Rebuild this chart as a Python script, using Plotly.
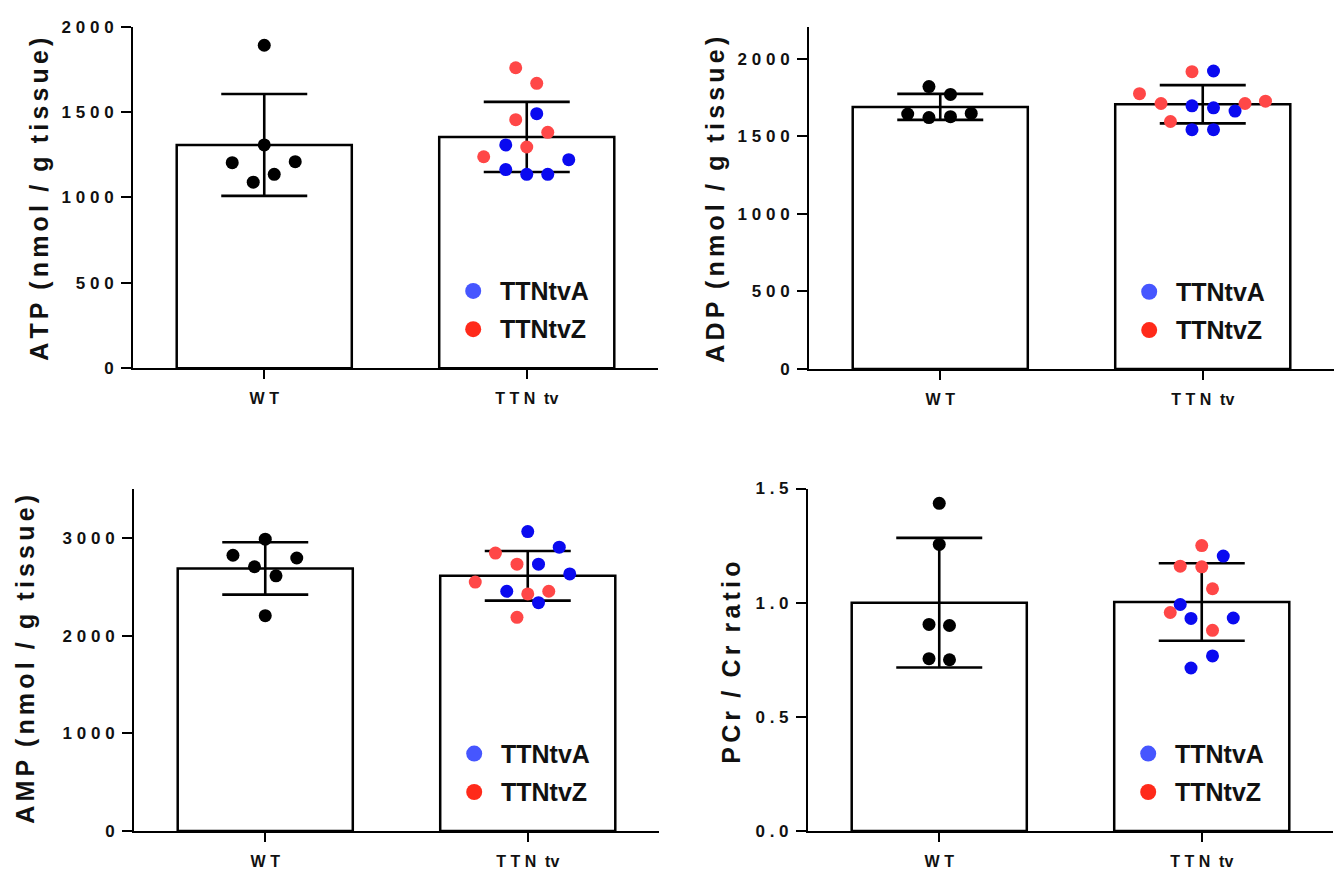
import plotly.graph_objects as go

# ---------------- data ----------------
categories = ["WT", "TTNtv"]
category_labels = ["W T", "T T N\u00a0 tv"]
legend_labels = ["TTNtvA", "TTNtvZ"]

# ATP (nmol / g tissue)
atp_wt = [1891, 1307, 1203, 1209, 1135, 1089]
atp_wt_jit = [0.0, 0.0, -0.122, 0.118, 0.038, -0.042]
atp_a = [1490, 1307, 1221, 1163, 1135, 1135]
atp_a_jit = [0.038, -0.08, 0.16, -0.08, 0.0, 0.08]
atp_z = [1759, 1668, 1455, 1381, 1295, 1238]
atp_z_jit = [-0.042, 0.038, -0.042, 0.08, 0.0, -0.164]
atp_mean = [1307, 1354]
atp_sd = [298, 205]

# ADP (nmol / g tissue)
adp_wt = [1820, 1769, 1643, 1620, 1626, 1647]
adp_wt_jit = [-0.043, 0.039, -0.124, -0.043, 0.039, 0.118]
adp_a = [1920, 1696, 1683, 1662, 1542, 1542]
adp_a_jit = [0.041, -0.041, 0.041, 0.123, -0.041, 0.041]
adp_z = [1916, 1774, 1711, 1711, 1726, 1595]
adp_z_jit = [-0.041, -0.241, -0.159, 0.161, 0.239, -0.123]
adp_mean = [1689, 1706]
adp_sd = [84, 123]

# AMP (nmol / g tissue)
amp_wt = [2991, 2826, 2798, 2708, 2615, 2207]
amp_wt_jit = [0.0, -0.123, 0.12, -0.041, 0.041, 0.0]
amp_a = [3069, 2909, 2735, 2635, 2457, 2340]
amp_a_jit = [0.0, 0.12, 0.041, 0.16, -0.08, 0.041]
amp_z = [2848, 2735, 2551, 2430, 2457, 2190]
amp_z_jit = [-0.123, -0.041, -0.2, 0.0, 0.08, -0.041]
amp_mean = [2691, 2615]
amp_sd = [268, 254]

# PCr / Cr ratio
pcr_wt = [1.435, 1.255, 0.905, 0.90, 0.755, 0.75]
pcr_wt_jit = [0.0, 0.0, -0.039, 0.039, -0.039, 0.039]
pcr_a = [1.204, 0.992, 0.931, 0.933, 0.767, 0.714]
pcr_a_jit = [0.082, -0.082, -0.041, 0.12, 0.041, -0.041]
pcr_z = [1.25, 1.16, 1.157, 1.061, 0.957, 0.879]
pcr_z_jit = [0.0, -0.082, 0.0, 0.041, -0.12, 0.041]
pcr_mean = [1.0, 1.003]
pcr_sd = [0.284, 0.17]

atp_ticks = [0, 500, 1000, 1500, 2000]
adp_ticks = [0, 500, 1000, 1500, 2000]
amp_ticks = [0, 1000, 2000, 3000]
pcr_ticks = ["0.0", "0.5", "1.0", "1.5"]

# ---------------- styling ----------------
FONT = "Liberation Sans, Arial, Helvetica, sans-serif"
C_WT = "#000000"
C_A = "#0a0af0"
C_Z = "#ff4747"
C_LEG_A = "#4656ff"
C_LEG_Z = "#ff2a1a"
W, H = 1340, 888


def spaced(s, sep="\u200a\u200a", word=" \u2005"):
    out = []
    for i, ch in enumerate(s):
        if ch == " ":
            out.append(word)
            continue
        out.append(ch)
        if i < len(s) - 1 and s[i + 1] != " ":
            out.append(sep)
    return "".join(out)


def tick_text(v):
    return " ".join(str(v))


panels = [
    dict(title="ATP (nmol / g tissue)", wt=atp_wt, wtj=atp_wt_jit, a=atp_a, aj=atp_a_jit,
         z=atp_z, zj=atp_z_jit, mean=atp_mean, sd=atp_sd,
         tickvals=atp_ticks, ticktext=[tick_text(t) for t in atp_ticks], yrange=[0, 2000],
         xdom=[133, 658], ydom=[18, 367], tx=39, ty=195),
    dict(title="ADP (nmol / g tissue)", wt=adp_wt, wtj=adp_wt_jit, a=adp_a, aj=adp_a_jit,
         z=adp_z, zj=adp_z_jit, mean=adp_mean, sd=adp_sd,
         tickvals=adp_ticks, ticktext=[tick_text(t) for t in adp_ticks], yrange=[0, 2206],
         xdom=[809, 1334], ydom=[18, 368], tx=715, ty=195),
    dict(title="AMP (nmol / g tissue)", wt=amp_wt, wtj=amp_wt_jit, a=amp_a, aj=amp_a_jit,
         z=amp_z, zj=amp_z_jit, mean=amp_mean, sd=amp_sd,
         tickvals=amp_ticks, ticktext=[tick_text(t) for t in amp_ticks], yrange=[0, 3510],
         xdom=[134, 659], ydom=[490, 840], tx=25, ty=665),
    dict(title="PCr / Cr ratio", wt=pcr_wt, wtj=pcr_wt_jit, a=pcr_a, aj=pcr_a_jit,
         z=pcr_z, zj=pcr_z_jit, mean=pcr_mean, sd=pcr_sd,
         tickvals=[float(t) for t in pcr_ticks], ticktext=[tick_text(t) for t in pcr_ticks],
         yrange=[0, 1.5], xdom=[808, 1333], ydom=[490, 840], tx=731, ty=668),
]

fig = go.Figure()
layout = dict(width=W, height=H, margin=dict(l=0, r=0, t=0, b=0),
              paper_bgcolor="white", plot_bgcolor="white", showlegend=False,
              font=dict(family=FONT, color="#111111"))
annotations = []
shapes = []

for i, p in enumerate(panels):
    n = "" if i == 0 else str(i + 1)
    xa, ya = "x" + n, "y" + n
    xdom = [p["xdom"][0] / W, p["xdom"][1] / W]
    ydom = [1 - p["ydom"][1] / H, 1 - p["ydom"][0] / H]

    fig.add_trace(go.Bar(
        x=[0, 1], y=p["mean"], width=0.667, xaxis=xa, yaxis=ya,
        marker=dict(color="white", line=dict(color="black", width=2.5)),
        error_y=dict(type="data", array=p["sd"], visible=True, color="black",
                     thickness=2.6, width=43),
        hoverinfo="skip"))
    fig.add_trace(go.Scatter(
        x=[0 + j for j in p["wtj"]], y=p["wt"], mode="markers", xaxis=xa, yaxis=ya,
        marker=dict(color=C_WT, size=13, line=dict(width=0))))
    fig.add_trace(go.Scatter(
        x=[1 + j for j in p["zj"]], y=p["z"], mode="markers", xaxis=xa, yaxis=ya,
        marker=dict(color=C_Z, size=13, line=dict(width=0))))
    fig.add_trace(go.Scatter(
        x=[1 + j for j in p["aj"]], y=p["a"], mode="markers", xaxis=xa, yaxis=ya,
        marker=dict(color=C_A, size=13, line=dict(width=0))))

    layout["xaxis" + n] = dict(
        domain=xdom, anchor=ya, range=[-0.5, 1.5], tickvals=[0, 1], ticktext=category_labels,
        ticks="outside", ticklen=9, tickwidth=2, tickcolor="black",
        showline=True, linewidth=2, linecolor="black", showgrid=False, zeroline=False,
        tickfont=dict(family=FONT, size=16, weight="bold", color="#111111"),
        ticklabelstandoff=6, fixedrange=True)
    layout["yaxis" + n] = dict(
        domain=ydom, anchor=xa, range=p["yrange"], tickvals=p["tickvals"], ticktext=p["ticktext"],
        ticks="outside", ticklen=10, tickwidth=2, tickcolor="black",
        showline=True, linewidth=2, linecolor="black", showgrid=False, zeroline=False,
        tickfont=dict(family=FONT, size=17, weight="bold", color="#111111"),
        ticklabelstandoff=4, fixedrange=True)

    # y axis title
    annotations.append(dict(
        text=spaced(p["title"]), x=p["tx"] / W, y=1 - p["ty"] / H, xref="paper", yref="paper",
        textangle=-90, showarrow=False, xanchor="center", yanchor="middle",
        font=dict(family=FONT, size=25, weight="bold", color="#111111")))

    # legend
    lx = xdom[0] + 0.648 * (xdom[1] - xdom[0])
    for k, (lab, col, fy) in enumerate(zip(legend_labels, [C_LEG_A, C_LEG_Z], [0.226, 0.114])):
        ly = ydom[0] + fy * (ydom[1] - ydom[0])
        shapes.append(dict(type="circle", xref="paper", yref="paper",
                           xsizemode="pixel", ysizemode="pixel", xanchor=lx, yanchor=ly,
                           x0=-8, x1=8, y0=-8, y1=8, fillcolor=col, line=dict(width=0)))
        annotations.append(dict(
            text=lab, x=lx, y=ly, xref="paper", yref="paper", xshift=25, yshift=0,
            showarrow=False, xanchor="left", yanchor="middle",
            font=dict(family=FONT, size=25, weight="bold", color="#111111")))

layout["annotations"] = annotations
layout["shapes"] = shapes
fig.update_layout(**layout)
fig.write_html("out.html")
